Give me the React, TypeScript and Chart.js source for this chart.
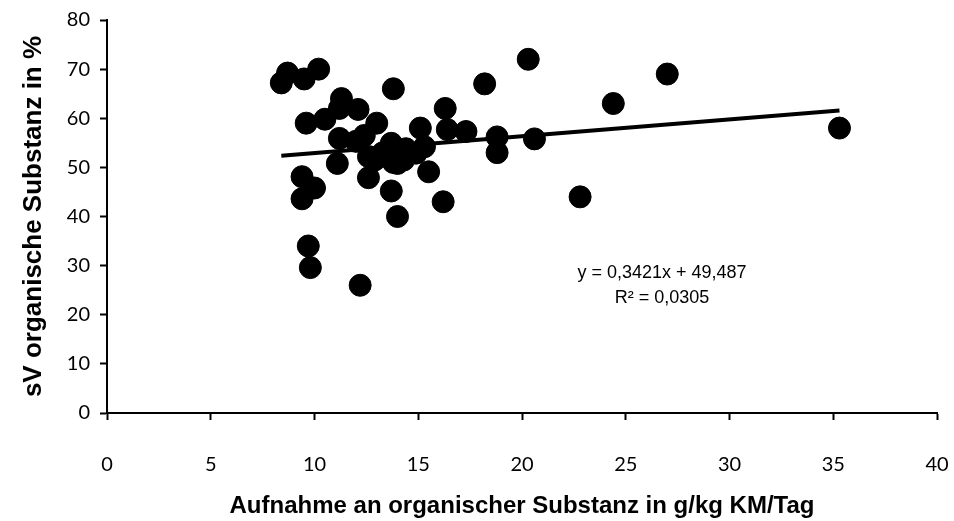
import React, { useEffect, useRef } from "react";
import { Chart, registerables } from "chart.js";

Chart.register(...registerables);

const xValues = [
  8.4, 8.7, 9.5, 10.2, 9.6, 10.5, 11.3, 11.2, 12.1, 13.8,
  13.0, 11.2, 12.0, 12.4, 13.7, 11.1, 12.6, 12.9, 12.6, 13.3,
  14.0, 14.4, 14.9, 15.3, 15.1, 15.5, 16.3, 16.4, 17.3, 18.2,
  18.8, 18.8, 20.3, 20.6, 22.8, 24.4, 27.0, 35.3, 9.4, 10.0,
  9.4, 13.7, 14.0, 16.2, 9.7, 9.8, 12.2, 14.3, 13.8,
];
const yValues = [
  67.2, 69.2, 68.0, 70.0, 59.0, 59.8, 64.0, 62.0, 61.8, 66.0,
  59.0, 55.9, 55.3, 56.5, 54.9, 50.8, 52.2, 51.5, 47.9, 53.0,
  50.8, 53.8, 52.9, 54.2, 58.0, 49.1, 62.0, 57.7, 57.3, 67.0,
  56.2, 53.0, 72.0, 55.8, 44.0, 63.0, 69.0, 58.0, 48.1, 45.8,
  43.6, 45.2, 40.0, 43.0, 34.0, 29.6, 26.0, 51.5, 51.0,
];
const slope = 0.3421;
const intercept = 49.487;
const equationLines = ["y = 0,3421x + 49,487", "R² = 0,0305"];
const equationPos = { x: 26.75, y: [28.5, 23.4] };
const xTitle = "Aufnahme an organischer Substanz in g/kg KM/Tag";
const yTitle = "sV organische Substanz in %";

export default function App() {
  const ref = useRef<HTMLCanvasElement | null>(null);
  useEffect(() => {
    if (!ref.current) return;
    const pts = xValues.map((x, i) => ({ x, y: yValues[i] }));
    const xmin = Math.min(...xValues);
    const xmax = Math.max(...xValues);
    const trend = [
      { x: xmin, y: slope * xmin + intercept },
      { x: xmax, y: slope * xmax + intercept },
    ];
    const eqPlugin = {
      id: "eq",
      afterDatasetsDraw(chart: any) {
        const { ctx, scales } = chart;
        ctx.save();
        ctx.fillStyle = "#000";
        ctx.font = '18px "Liberation Sans", Arial, sans-serif';
        ctx.textAlign = "center";
        ctx.textBaseline = "middle";
        equationLines.forEach((t, i) => {
          ctx.fillText(
            t,
            scales.x.getPixelForValue(equationPos.x),
            scales.y.getPixelForValue(equationPos.y[i])
          );
        });
        ctx.restore();
      },
    };
    const fixX = (s: any) => {
      s.height = 108;
      s.paddingLeft = s.paddingRight = s.paddingTop = s.paddingBottom = 0;
    };
    const fixY = (s: any) => {
      s.width = 107;
      s.paddingLeft = s.paddingRight = s.paddingTop = s.paddingBottom = 0;
    };
    const tickFont = { family: "Lato, sans-serif", size: 20 };
    const chart = new Chart(ref.current, {
      type: "scatter",
      data: {
        datasets: [
          {
            type: "line",
            data: trend,
            borderColor: "#000",
            borderWidth: 4,
            pointRadius: 0,
            fill: false,
            order: 0,
          } as any,
          {
            data: pts,
            backgroundColor: "#000",
            borderColor: "#000",
            borderWidth: 1,
            pointRadius: 11,
            order: 1,
          },
        ],
      },
      options: {
        animation: false,
        responsive: false,
        maintainAspectRatio: false,
        layout: { padding: { left: 0, right: 17, top: 20, bottom: 0 } },
        plugins: { legend: { display: false }, tooltip: { enabled: false } },
        scales: {
          x: {
            type: "linear",
            min: 0,
            max: 40,
            afterFit: fixX,
            ticks: { stepSize: 5, color: "#000", font: tickFont, padding: 33 },
            grid: {
              drawOnChartArea: false,
              drawTicks: true,
              tickLength: 7,
              tickWidth: 2,
              tickColor: "#000",
            },
            border: { color: "#000", width: 2 },
            title: {
              display: true,
              text: xTitle,
              color: "#000",
              font: { family: '"Liberation Sans", Arial, sans-serif', size: 24, weight: "bold" },
              padding: { top: 0, bottom: 0 },
            },
          },
          y: {
            type: "linear",
            min: 0,
            max: 80,
            afterFit: fixY,
            ticks: { stepSize: 10, color: "#000", font: tickFont, padding: 10 },
            grid: {
              drawOnChartArea: false,
              drawTicks: true,
              tickLength: 7,
              tickWidth: 2,
              tickColor: "#000",
            },
            border: { color: "#000", width: 2 },
            title: {
              display: true,
              text: yTitle,
              color: "#000",
              font: { family: '"Liberation Sans", Arial, sans-serif', size: 26, weight: "bold" },
              padding: { top: 18, bottom: 0 },
            },
          },
        },
      },
      plugins: [eqPlugin],
    });
    return () => chart.destroy();
  }, []);
  return (
    <div style={{ position: "fixed", left: 0, top: 0, width: 954, height: 521, background: "#fff" }}>
      <canvas ref={ref} width={954} height={521} style={{ display: "block" }} />
    </div>
  );
}
